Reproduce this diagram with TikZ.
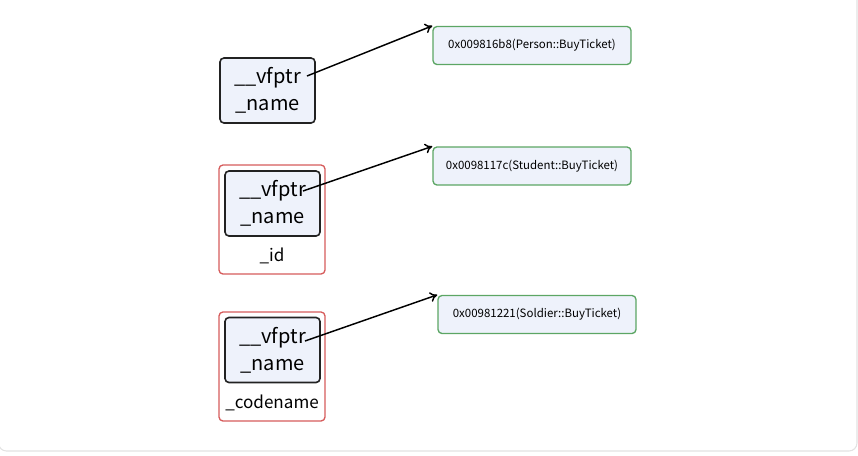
\documentclass[tikz,border=0pt]{standalone}
\usepackage{fontspec}
\setmainfont{Noto Sans CJK SC}
\usepackage{xcolor}
\usepackage{tikz}
\usetikzlibrary{arrows.meta}
\definecolor{slotfill}{RGB}{238, 242, 251}
\definecolor{slotline}{RGB}{34, 34, 34}
\definecolor{objred}{RGB}{214, 92, 92}
\definecolor{fngreen}{RGB}{92, 166, 100}
\definecolor{framegray}{RGB}{226, 226, 226}

\begin{document}
\begin{tikzpicture}[x = 0.75pt, y = -0.75pt,
	slot/.style = {draw = slotline, line width = 1.2pt, fill = slotfill, rounded corners = 3pt,
		minimum width = 71.25pt, minimum height = 48.75pt, align = center,
		font = \fontsize{15}{20}\selectfont},
	obj/.style = {draw = objred, line width = 1pt, fill = white, rounded corners = 3pt,
		minimum width = 79.5pt, minimum height = 81.75pt},
	fn/.style = {draw = fngreen, line width = 1pt, fill = slotfill, rounded corners = 3pt,
		minimum width = 148.5pt, minimum height = 28.5pt, font = \fontsize{8.6}{10}\selectfont},
	member/.style = {font = \fontsize{12.8}{15}\selectfont},
	ptr/.style = {line width = 1.1pt, -{To[length = 5.5pt, width = 7.5pt]}}]
	\useasboundingbox (0,0) rectangle (858,455);
	\begin{scope}
		\clip (0,0) rectangle (858,455);
		\draw[framegray, line width = 0.8pt, rounded corners = 6pt] (-1.5,-20) rectangle (857,451);
	\end{scope}
	% Person
	\node (p) at (267.5,90.5) [slot] {\_\_vfptr\\\_name};
	\node (pf) at (532,45.5) [fn] {0x009816b8(Person::BuyTicket)};
	% Student
	\node (s) at (272,219.5) [obj] {};
	\node (sv) at (272.5,203.5) [slot] {\_\_vfptr\\\_name};
	\node (sid) at (272,256) [member] {\_id};
	\node (sf) at (532,166) [fn] {0x0098117c(Student::BuyTicket)};
	% Soldier
	\node (d) at (272,366.5) [obj] {};
	\node (dv) at (272.5,350) [slot] {\_\_vfptr\\\_name};
	\node (dcode) at (272,403) [member] {\_codename};
	\node (df) at (537,314.5) [fn] {0x00981221(Soldier::BuyTicket)};
	\coordinate (p0) at (307,76);
	\coordinate (s0) at (303,191);
	\coordinate (d0) at (305,341);
	\draw[ptr] (p0) -- (pf.north west);
	\draw[ptr] (s0) -- (sf.north west);
	\draw[ptr] (d0) -- (df.north west);
\end{tikzpicture}
\end{document}
